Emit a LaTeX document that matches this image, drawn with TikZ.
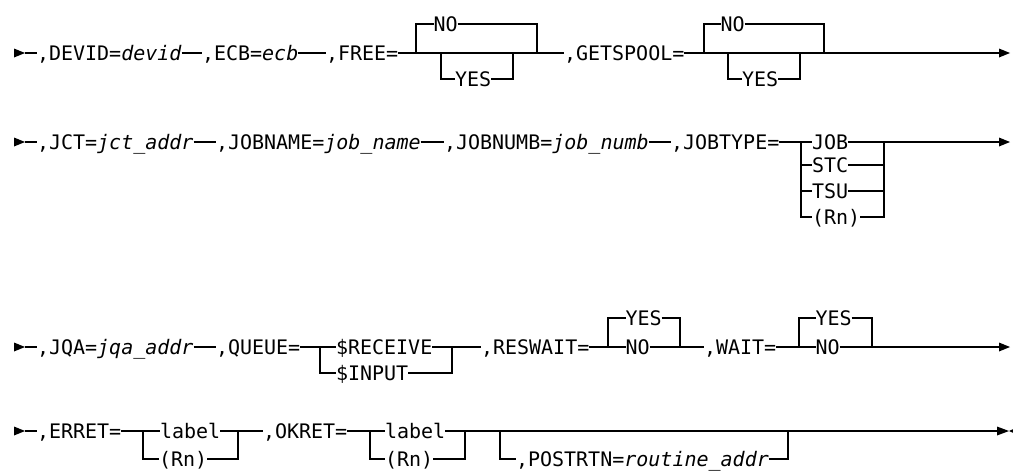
\documentclass[tikz,border=0pt]{standalone}
\usepackage{fontspec}
\setmonofont[ItalicFont={DejaVu Sans Mono Oblique}]{DejaVu Sans Mono}
\newcommand\rrfont{\ttfamily\fontsize{20}{24}\selectfont}
\tikzset{
  tx/.style={anchor=west, inner sep=0pt, outer sep=0pt, text height=15pt, text depth=0.4pt, font=\rrfont},
  rail/.style={line width=1.3pt, line cap=butt, line join=miter},
  tipfill/.style={fill=black, draw=none}
}
\begin{document}
\begin{tikzpicture}[x=1pt,y=-1pt]
\useasboundingbox (0,0) rectangle (1013,472);
% ---------------- Row 1 ----------------
\coordinate (s1) at (25,53);
\coordinate (e1) at (999,53);
\node[tx] (devid) at (37,53) {,DEVID=\textit{devid}};
\node[tx] (ecb) at (202,53) {,ECB=\textit{ecb}};
\node[tx] (free) at (326,53) {,FREE=};
\node[tx] (freeno) at (433.5,24) {NO};
\node[tx] (freeyes) at (455,79) {YES};
\node[tx] (gets) at (564,53) {,GETSPOOL=};
\node[tx] (getsno) at (720.5,24) {NO};
\node[tx] (getsyes) at (742,79) {YES};
\fill[tipfill] (14,48.5) -- (s1) -- (14,57.5) -- cycle;
\draw[rail] (s1) -- (devid.west);
\draw[rail] (devid.east) -- (ecb.west);
\draw[rail] (ecb.east) -- (free.west);
\draw[rail] (free.east) -- (gets.west);
\draw[rail] (416,53) |- (freeno.west);
\draw[rail] (freeno.east) -| (537,53);
\draw[rail] (441,53) |- (freeyes.west);
\draw[rail] (freeyes.east) -| (513,53);
\draw[rail] (gets.east) -- (e1);
\draw[rail] (704,53) |- (getsno.west);
\draw[rail] (getsno.east) -| (824,53);
\draw[rail] (728,53) |- (getsyes.west);
\draw[rail] (getsyes.east) -| (800,53);
\fill[tipfill] (e1) ++(0,-4.5) -- ++(11,4.5) -- ++(-11,4.5) -- cycle;
% ---------------- Row 2 ----------------
\coordinate (s2) at (25,142);
\coordinate (e2) at (999,142);
\node[tx] (jct) at (37,142) {,JCT=\textit{jct\_addr}};
\node[tx] (jobname) at (216,142) {,JOBNAME=\textit{job\_name}};
\node[tx] (jobnumb) at (444,142) {,JOBNUMB=\textit{job\_numb}};
\node[tx] (jobtype) at (671,142) {,JOBTYPE=};
\node[tx] (job) at (812,142) {JOB};
\node[tx] (stc) at (812,165) {STC};
\node[tx] (tsu) at (812,191) {TSU};
\node[tx] (rn2) at (812,217) {(Rn)};
\fill[tipfill] (14,137.5) -- (s2) -- (14,146.5) -- cycle;
\draw[rail] (s2) -- (jct.west);
\draw[rail] (jct.east) -- (jobname.west);
\draw[rail] (jobname.east) -- (jobnumb.west);
\draw[rail] (jobnumb.east) -- (jobtype.west);
\draw[rail] (jobtype.east) -- (job.west);
\draw[rail] (job.east) -- (e2);
\draw[rail] (801,142) |- (rn2.west);
\draw[rail] (801,165) -- (stc.west);
\draw[rail] (801,191) -- (tsu.west);
\draw[rail] (stc.east) -- (884,165);
\draw[rail] (tsu.east) -- (884,191);
\draw[rail] (rn2.east) -| (884,142);
\fill[tipfill] (e2) ++(0,-4.5) -- ++(11,4.5) -- ++(-11,4.5) -- cycle;
% ---------------- Row 3 ----------------
\coordinate (s3) at (25,347);
\coordinate (e3) at (999,347);
\node[tx] (jqa) at (37,347) {,JQA=\textit{jqa\_addr}};
\node[tx] (queue) at (216,347) {,QUEUE=};
\node[tx] (recv) at (336,347) {\$RECEIVE};
\node[tx] (input) at (336,373) {\$INPUT};
\node[tx] (reswait) at (481,347) {,RESWAIT=};
\node[tx] (rwyes) at (625.5,318) {YES};
\node[tx] (rwno) at (625.5,347) {NO};
\node[tx] (wait) at (704,347) {,WAIT=};
\node[tx] (wyes) at (815.5,318) {YES};
\node[tx] (wno) at (815.5,347) {NO};
\fill[tipfill] (14,342.5) -- (s3) -- (14,351.5) -- cycle;
\draw[rail] (s3) -- (jqa.west);
\draw[rail] (jqa.east) -- (queue.west);
\draw[rail] (queue.east) -- (recv.west);
\draw[rail] (320,347) |- (input.west);
\draw[rail] (input.east) -| (452,347);
\draw[rail] (recv.east) -- (reswait.west);
\draw[rail] (reswait.east) -- (rwno.west);
\draw[rail] (608,347) |- (rwyes.west);
\draw[rail] (rwyes.east) -| (680,347);
\draw[rail] (rwno.east) -- (wait.west);
\draw[rail] (wait.east) -- (wno.west);
\draw[rail] (799,347) |- (wyes.west);
\draw[rail] (wyes.east) -| (872,347);
\draw[rail] (wno.east) -- (e3);
\fill[tipfill] (e3) ++(0,-4.5) -- ++(11,4.5) -- ++(-11,4.5) -- cycle;
% ---------------- Row 4 ----------------
\coordinate (s4) at (25,431);
\coordinate (e4) at (997,431);
\node[tx] (erret) at (37,431) {,ERRET=};
\node[tx] (elabel) at (160,431) {label};
\node[tx] (ern) at (159,459) {(Rn)};
\node[tx] (okret) at (263,431) {,OKRET=};
\node[tx] (olabel) at (385,431) {label};
\node[tx] (orn) at (385,459) {(Rn)};
\node[tx] (post) at (516,459) {,POSTRTN=\textit{routine\_addr}};
\fill[tipfill] (14,426.5) -- (s4) -- (14,435.5) -- cycle;
\draw[rail] (s4) -- (erret.west);
\draw[rail] (erret.east) -- (elabel.west);
\draw[rail] (143,431) |- (ern.west);
\draw[rail] (ern.east) -| (238,431);
\draw[rail] (elabel.east) -- (okret.west);
\draw[rail] (okret.east) -- (olabel.west);
\draw[rail] (370,431) |- (orn.west);
\draw[rail] (orn.east) -| (465,431);
\draw[rail] (olabel.east) -- (e4);
\draw[rail] (500,431) |- (post.west);
\draw[rail] (post.east) -| (788,431);
\fill[tipfill] (e4) ++(0,-4.5) -- ++(12,4.5) -- ++(-12,4.5) -- cycle;
\fill[tipfill] (1009,431) -- ++(10,-4.5) -- ++(0,9) -- cycle;
\end{tikzpicture}
\end{document}
